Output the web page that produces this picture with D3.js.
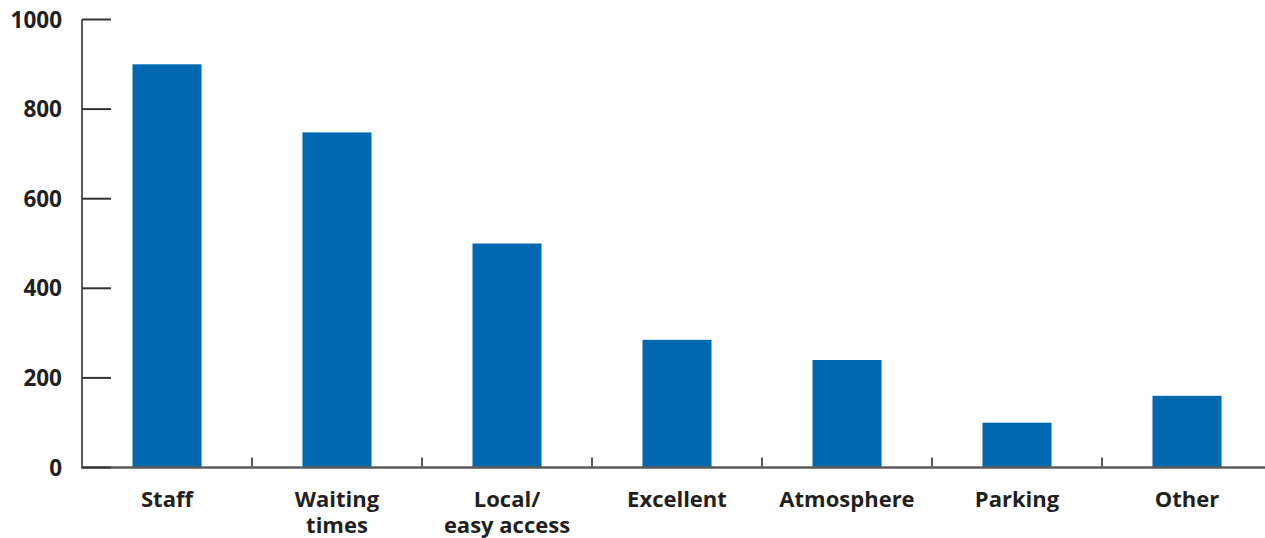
<!DOCTYPE html>
<html>
<head>
<meta charset="utf-8">
<script src="https://cdn.jsdelivr.net/npm/d3@7"></script>
<style>
  body { margin: 0; background: #fff; }
  svg { display: block; overflow: hidden; }
  text { font-family: "Open Sans", sans-serif; font-weight: bold; fill: #231f20; }
</style>
</head>
<body>
<div id="chart"></div>
<script>
// chart data
const categories = ["Staff", "Waiting times", "Local/ easy access", "Excellent", "Atmosphere", "Parking", "Other"];
const labelLines = [["Staff"], ["Waiting", "times"], ["Local/", "easy access"], ["Excellent"], ["Atmosphere"], ["Parking"], ["Other"]];
const counts = [900, 748, 500, 285, 240, 100, 160];
const yTicks = [0, 200, 400, 600, 800, 1000];

const width = 1265;
const height = 538;
const margin = { top: 19.5, left: 82, bottom: 70.5 };
const plotRight = 1272; // axis runs past the window edge

const svg = d3.select("#chart")
  .append("svg")
  .attr("width", width)
  .attr("height", height);

const x = d3.scaleBand()
  .domain(categories)
  .range([margin.left, plotRight])
  .paddingInner(0.594)
  .paddingOuter(0.297);

const y = d3.scaleLinear()
  .domain([0, 1000])
  .range([height - margin.bottom, margin.top]);

// bars
svg.selectAll(".bar")
  .data(categories)
  .join("rect")
  .attr("class", "bar")
  .attr("x", d => x(d))
  .attr("width", x.bandwidth())
  .attr("y", (d, i) => y(counts[i]))
  .attr("height", (d, i) => y(0) - y(counts[i]))
  .attr("fill", "#0068b0");

// y axis line
svg.append("line")
  .attr("x1", margin.left).attr("x2", margin.left)
  .attr("y1", y(1000)).attr("y2", y(0))
  .attr("stroke", "#5a5a5c")
  .attr("stroke-width", 2);

// x axis line
svg.append("line")
  .attr("x1", margin.left - 1).attr("x2", plotRight)
  .attr("y1", y(0)).attr("y2", y(0))
  .attr("stroke", "#5a5a5c")
  .attr("stroke-width", 2.5);

// y ticks point into the plot
svg.selectAll(".ytick")
  .data(yTicks)
  .join("line")
  .attr("class", "ytick")
  .attr("x1", margin.left)
  .attr("x2", margin.left + 29)
  .attr("y1", d => y(d))
  .attr("y2", d => y(d))
  .attr("stroke", "#333")
  .attr("stroke-width", 2);

svg.selectAll(".ylabel")
  .data(yTicks)
  .join("text")
  .attr("class", "ylabel")
  .attr("x", 62)
  .attr("y", d => y(d))
  .attr("dy", "0.36em")
  .attr("text-anchor", "end")
  .style("font-size", "22.5px")
  .text(d => d);

// x ticks sit between categories
const boundaries = categories.map(d => x(d) - x.step() * x.paddingInner() / 2).concat([plotRight]);
svg.selectAll(".xtick")
  .data(boundaries)
  .join("line")
  .attr("class", "xtick")
  .attr("x1", d => d).attr("x2", d => d)
  .attr("y1", y(0))
  .attr("y2", y(0) - 10)
  .attr("stroke", "#5a5a5c")
  .attr("stroke-width", 2);

// category labels, one text per line
categories.forEach((c, i) => {
  labelLines[i].forEach((line, j) => {
    svg.append("text")
      .attr("class", "xlabel")
      .attr("x", x(c) + x.bandwidth() / 2)
      .attr("y", 507 + j * 26)
      .attr("text-anchor", "middle")
      .style("font-size", "22px")
      .text(line);
  });
});
</script>
</body>
</html>
